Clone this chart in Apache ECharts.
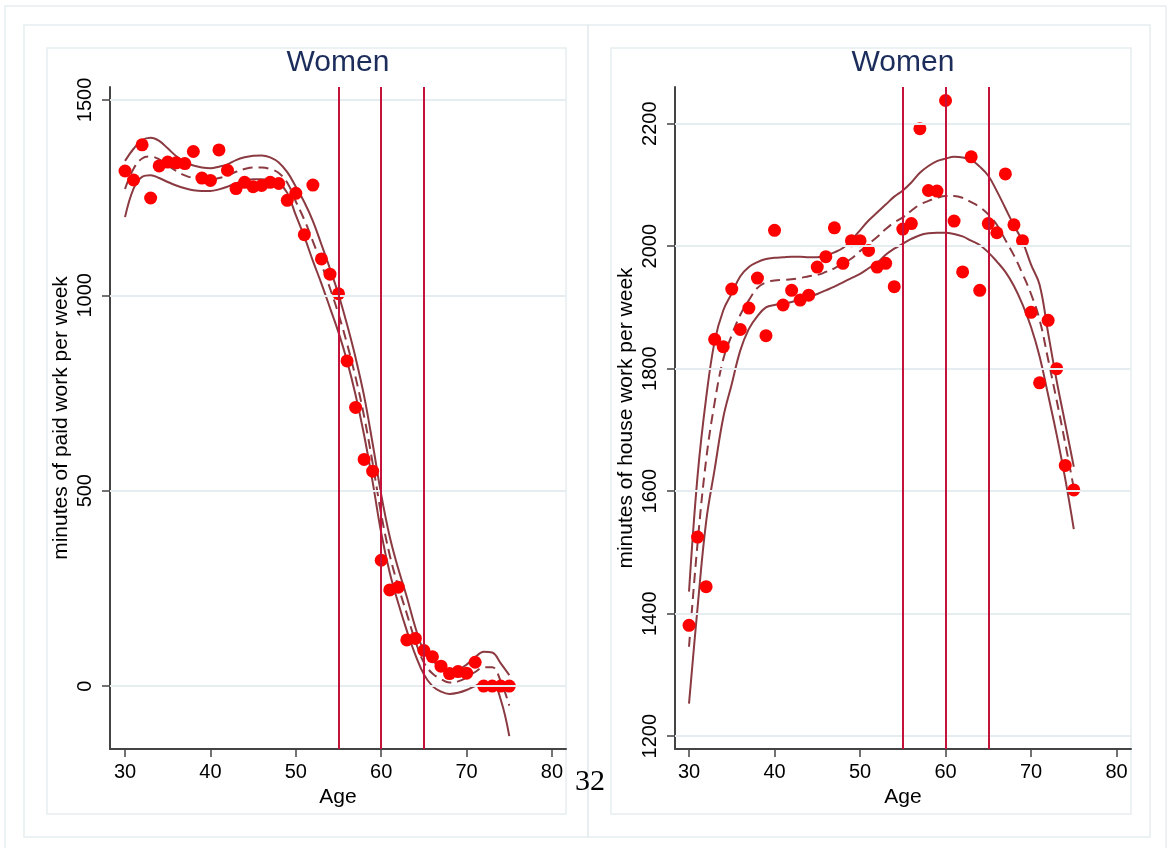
<!DOCTYPE html>
<html>
<head>
<meta charset="utf-8">
<title>Women - paid and house work by age</title>
<script src="https://cdn.jsdelivr.net/npm/echarts@6/dist/echarts.min.js"></script>
<style>
body { margin:0; background:#fff; }
#chart { width:1171px; height:848px; }
</style>
</head>
<body>
<div id="chart"></div>
<script>
//年龄
var ages = [30,31,32,33,34,35,36,37,38,39,40,41,42,43,44,45,46,47,48,49,50,51,52,53,54,55,56,57,58,59,60,61,62,63,64,65,66,67,68,69,70,71,72,73,74,75];

//paid work (left)
var paidDots = [1318,1295,1385,1249,1331,1341,1339,1337,1368,1300,
	1294,1372,1320,1273,1289,1278,1281,1289,1286,1243,
	1261,1155,1282,1093,1054,1004,832,713,580,550,
	322,246,253,118,122,91,75,51,32,37,
	33,61,0,0,0,0];
var paidFit = [1272,1324,1350,1355,1348,1333,1318,1307,1300,1297,
	1296,1300,1306,1316,1323,1327,1327,1323,1313,1288,
	1240,1193,1138,1080,1018,952,876,790,690,570,
	440,335,255,185,115,60,32,18,9,12,
	22,36,48,48,12,-50];
var paidUpper = [1344,1375,1397,1403,1395,1376,1356,1341,1332,1327,
	1325,1329,1335,1346,1353,1357,1358,1353,1340,1315,
	1278,1238,1190,1130,1068,1002,925,840,742,620,
	490,382,300,228,150,90,65,49,38,42,
	55,74,88,86,58,28];
var paidLower = [1200,1273,1303,1307,1300,1290,1281,1274,1269,1267,
	1267,1271,1278,1287,1293,1297,1297,1294,1287,1262,
	1205,1150,1088,1030,968,905,832,745,642,522,
	392,290,212,142,80,30,0,-14,-20,-17,
	-10,0,8,8,-35,-128];

//house work (right)
var houseDots = [1381,1525,1444,1848,1836,1930,1864,1899,1948,1854,
	2026,1904,1928,1912,1920,1966,1983,2030,1972,2009,
	2009,1993,1966,1972,1934,2028,2037,2192,2091,2090,
	2238,2041,1958,2146,1928,2037,2022,2118,2035,2009,
	1892,1777,1879,1800,1642,1602];
var houseFit = [1346,1515,1651,1745,1815,1855,1888,1912,1932,1941,
	1944,1945,1946,1948,1951,1953,1958,1964,1972,1980,
	1992,2004,2015,2028,2039,2047,2058,2068,2074,2079,
	2082,2082,2079,2072,2064,2052,2035,2010,1985,1955,
	1922,1880,1815,1748,1678,1605];
var houseUpper = [1436,1625,1752,1845,1895,1923,1951,1966,1974,1979,
	1981,1982,1983,1983,1982,1982,1985,1990,1997,2010,
	2026,2042,2055,2068,2081,2091,2104,2120,2131,2139,
	2143,2146,2145,2141,2130,2115,2090,2062,2034,2008,
	1970,1937,1858,1780,1710,1640];
var houseLower = [1253,1410,1550,1636,1720,1775,1830,1865,1886,1900,
	1904,1906,1909,1913,1917,1922,1928,1934,1941,1948,
	1955,1964,1973,1986,1996,2004,2012,2018,2021,2022,
	2022,2020,2016,2009,2002,1990,1975,1958,1935,1905,
	1868,1820,1757,1692,1620,1538];

//刻度
var xTicks = [30,40,50,60,70,80];
var paidTicks = [0,500,1000,1500];
var houseTicks = [1200,1400,1600,1800,2000,2200];
var retireAges = [55,60,65];

var FONT = 'Liberation Sans, Arial, sans-serif';
var CURVE = '#8a3a40';

function pairs(xs, ys)
{
	var out = [];
	for (var i = 0; i < xs.length; i++) out.push([xs[i], ys[i]]);
	return out;
}

//no thousands separator, like the original
function plain(v)
{
	return String(v);
}

function xAxisOpt(gridIndex, min, max)
{
	return {
		type:'value', gridIndex:gridIndex, min:min, max:max,
		name:'Age', nameLocation:'middle', nameGap:37,
		nameTextStyle:{ color:'#000', fontSize:21, fontFamily:FONT },
		axisLine:{ show:true, onZero:false, lineStyle:{ color:'#444', width:2 } },
		axisTick:{ show:true, length:8, customValues:xTicks, lineStyle:{ color:'#444', width:1.5 } },
		axisLabel:{ customValues:xTicks, formatter:plain, margin:13, color:'#000', fontSize:20, fontFamily:FONT },
		splitLine:{ show:false }
	};
}

function yAxisOpt(gridIndex, min, max, ticks, name)
{
	return {
		type:'value', gridIndex:gridIndex, min:min, max:max,
		name:name, nameLocation:'middle', nameGap:38, nameRotate:90,
		nameTextStyle:{ color:'#000', fontSize:21, fontFamily:FONT },
		axisLine:{ show:true, onZero:false, lineStyle:{ color:'#444', width:2 } },
		axisTick:{ show:true, length:8, customValues:ticks, lineStyle:{ color:'#444', width:1.5 } },
		axisLabel:{ customValues:ticks, formatter:plain, rotate:90, margin:15, color:'#000', fontSize:20, fontFamily:FONT },
		splitLine:{ show:false }
	};
}

function guideLines(ticks)
{
	var data = [];
	for (var i = 0; i < ticks.length; i++) {
		data.push({ yAxis:ticks[i], lineStyle:{ color:'#e6edf1', width:2, type:'solid' } });
	}
	for (var j = 0; j < retireAges.length; j++) {
		data.push({ xAxis:retireAges[j], lineStyle:{ color:'#c4123a', width:2, type:'solid' } });
	}
	return {
		silent:true, symbol:['none','none'], label:{ show:false },
		animation:false, data:data
	};
}

function panelSeries(idx, dots, fit, upper, lower, ticks)
{
	return [
		{
			type:'line', xAxisIndex:idx, yAxisIndex:idx, data:pairs(ages, lower),
			smooth:0.4, showSymbol:false, lineStyle:{ color:CURVE, width:2 }, z:3,
			markLine:guideLines(ticks)
		},
		{
			type:'line', xAxisIndex:idx, yAxisIndex:idx, data:pairs(ages, upper),
			smooth:0.4, showSymbol:false, lineStyle:{ color:CURVE, width:2 }, z:3
		},
		{
			type:'line', xAxisIndex:idx, yAxisIndex:idx, data:pairs(ages, fit),
			smooth:0.4, showSymbol:false, lineStyle:{ color:CURVE, width:2, type:[10,6] }, z:3
		},
		{
			type:'scatter', xAxisIndex:idx, yAxisIndex:idx, data:pairs(ages, dots),
			symbolSize:13, itemStyle:{ color:'#ff0000', opacity:1 }, z:4
		}
	];
}

function box(x, y, w, h)
{
	return {
		type:'rect', silent:true, z:-10,
		shape:{ x:x, y:y, width:w, height:h },
		style:{ fill:'none', stroke:'#e6edf0', lineWidth:1.5 }
	};
}

function label(text, x, y, size, color, family)
{
	return {
		type:'text', silent:true, x:x, y:y,
		style:{ text:text, fill:color, font:size + 'px ' + family, align:'center', verticalAlign:'middle' }
	};
}

function loadChart()
{
	var myChart = echarts.init(document.getElementById('chart'));

	var option = {
		backgroundColor:'#fff',
		animation:false,
		grid:[
			{ left:110, top:87, width:456, height:662 },
			{ left:675, top:87, width:456, height:662 }
		],
		xAxis:[ xAxisOpt(0, 28.24, 81.64), xAxisOpt(1, 28.36, 81.69) ],
		yAxis:[
			yAxisOpt(0, -161, 1533, paidTicks, 'minutes of paid work per week'),
			yAxisOpt(1, 1179, 2260, houseTicks, 'minutes of house work per week')
		],
		series: panelSeries(0, paidDots, paidFit, paidUpper, paidLower, paidTicks)
			.concat(panelSeries(1, houseDots, houseFit, houseUpper, houseLower, houseTicks)),
		graphic:[
			box(5, 6, 1161, 860),
			box(24, 25, 564, 812),
			box(588, 25, 562, 812),
			box(47, 48, 519, 766),
			box(611, 48, 520, 766),
			label('Women', 338, 63, 30, '#1c2d5c', FONT),
			label('Women', 903, 63, 30, '#1c2d5c', FONT),
			label('32', 590, 782, 30, '#000', 'Liberation Serif, DejaVu Serif, serif')
		]
	};

	myChart.setOption(option);
}

loadChart();
</script>
</body>
</html>
